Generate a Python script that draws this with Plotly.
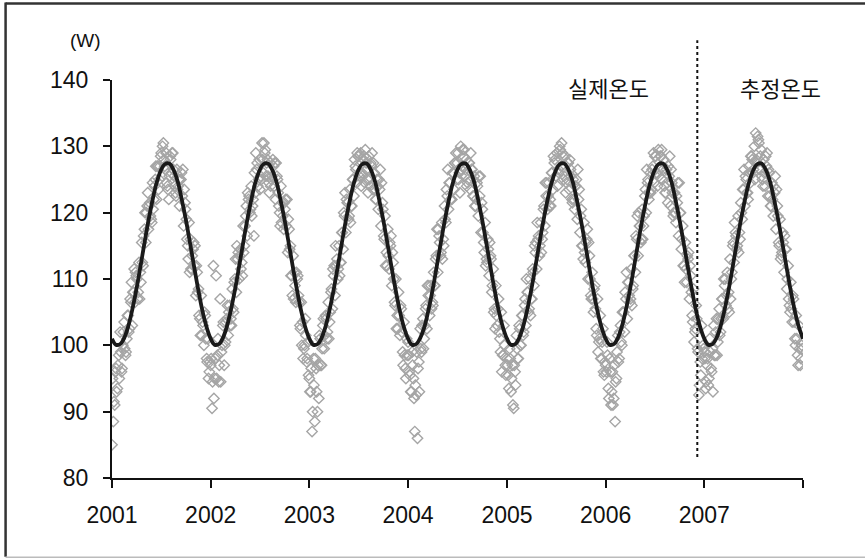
import pandas as pd
import plotly.graph_objects as go

# ---------------- data ----------------
# observed values, first reading series: every 5 days starting 1 January of each year
obs_2001 = [85.0, 88.5, 91.0, 96.5, 93.5, 98.5, 102.0, 96.0, 100.0, 103.5, 98.5, 101.0, 104.5,
            102.5, 106.5, 103.0, 108.0, 106.5, 110.5, 107.0, 112.5, 111.0, 115.5, 112.0, 117.5,
            115.5, 121.0, 117.5, 121.5, 119.0, 124.5, 122.0, 125.0, 122.0, 127.0, 125.0, 128.5,
            125.5, 130.5, 127.0, 129.0, 124.0, 122.0, 128.5, 126.0, 129.0, 125.5, 123.0, 126.5,
            124.0, 121.0, 125.0, 122.5, 118.0, 121.5, 119.0, 115.0, 118.5, 116.0, 111.5, 114.5,
            112.0, 107.5, 111.0, 108.5, 104.0, 107.5, 103.5, 100.0, 104.5, 98.0, 101.0, 96.0]
obs_2002 = [97.0, 90.5, 112.0, 95.0, 110.5, 98.5, 94.5, 107.0, 99.0, 103.0, 97.0, 100.5, 104.0,
            101.5, 106.0, 104.0, 108.5, 105.0, 110.0, 108.0, 113.0, 110.0, 114.5, 112.5, 118.0,
            115.0, 119.5, 116.5, 122.0, 120.0, 124.0, 121.0, 116.5, 123.0, 126.5, 124.0, 128.0,
            125.5, 130.5, 126.0, 129.0, 125.5, 128.0, 124.5, 127.5, 125.0, 128.0, 124.0, 122.0,
            125.5, 123.0, 120.0, 124.0, 121.5, 117.5, 120.5, 118.0, 114.0, 117.5, 115.0, 110.5,
            113.5, 111.0, 106.5, 110.0, 107.5, 103.0, 106.5, 103.5, 99.5, 104.0, 97.5, 100.5]
obs_2003 = [95.0, 93.0, 87.0, 98.0, 88.5, 96.5, 90.0, 92.0, 101.0, 97.0, 103.0, 99.5, 104.5,
            101.0, 106.5, 103.5, 108.0, 105.5, 110.5, 107.5, 112.0, 110.0, 115.0, 112.5, 117.0,
            114.5, 119.5, 117.0, 121.5, 119.0, 123.5, 121.0, 125.0, 122.5, 127.0, 124.5, 128.5,
            125.5, 129.0, 126.0, 128.0, 124.5, 127.5, 125.0, 128.5, 124.0, 127.0, 123.5, 126.0,
            122.0, 125.0, 120.5, 123.5, 118.0, 121.5, 116.5, 119.5, 114.0, 117.5, 111.5, 115.0,
            109.0, 112.5, 106.5, 110.0, 104.5, 108.0, 101.5, 105.5, 99.0, 103.5, 96.5, 101.0]
obs_2004 = [100.5, 96.0, 93.0, 99.0, 95.0, 87.0, 92.5, 86.0, 97.5, 102.5, 99.0, 104.0, 101.0,
            105.5, 102.5, 107.5, 104.5, 109.0, 106.5, 111.0, 109.0, 113.5, 111.0, 116.5, 113.5,
            118.5, 116.0, 121.0, 118.5, 122.5, 120.5, 124.5, 122.0, 126.0, 123.5, 127.5, 125.0,
            129.0, 126.0, 130.0, 127.0, 128.5, 125.5, 128.0, 124.5, 127.5, 123.5, 126.5, 122.5,
            125.5, 121.0, 124.5, 119.5, 122.5, 117.0, 120.5, 115.5, 118.5, 113.0, 116.0, 110.5,
            113.5, 108.0, 111.5, 105.5, 109.0, 103.0, 107.0, 101.0, 105.0, 98.5, 103.0, 97.0]
obs_2005 = [98.0, 95.5, 99.5, 93.0, 97.0, 90.5, 96.0, 101.5, 98.0, 103.0, 100.0, 104.5, 101.5,
            106.0, 103.0, 108.0, 105.0, 110.0, 107.0, 111.5, 109.0, 114.0, 111.5, 116.0, 113.5,
            118.5, 116.0, 120.5, 118.0, 122.5, 120.5, 124.5, 122.0, 126.0, 123.5, 127.5, 125.5,
            129.0, 126.5, 130.0, 127.0, 129.0, 125.0, 128.5, 124.5, 127.5, 123.5, 126.5, 122.0,
            125.0, 120.5, 124.0, 119.0, 122.0, 117.0, 120.5, 115.0, 118.5, 112.5, 116.0, 110.0,
            113.5, 107.5, 111.0, 105.0, 109.0, 102.5, 107.0, 100.5, 104.5, 98.0, 102.5, 95.5]
obs_2006 = [97.0, 100.5, 93.5, 98.0, 91.0, 96.0, 92.0, 88.5, 95.0, 101.5, 98.0, 103.0, 100.0,
            105.0, 102.0, 107.0, 104.0, 109.5, 106.5, 111.5, 108.5, 113.5, 111.0, 116.0, 113.5,
            118.0, 115.5, 120.5, 118.0, 122.5, 120.0, 124.5, 122.0, 126.0, 123.5, 127.0, 124.5,
            128.5, 126.0, 129.5, 126.5, 128.5, 125.0, 128.0, 123.0, 126.5, 121.5, 125.5, 121.0,
            124.5, 119.5, 123.0, 118.5, 121.5, 116.5, 120.0, 114.5, 118.0, 112.0, 115.5, 109.5,
            113.0, 107.0, 110.5, 104.5, 108.5, 102.0, 106.0, 99.5, 92.5, 97.5, 103.0, 100.0]
obs_2007 = [99.0, 93.5, 97.0, 94.0, 101.0, 96.5, 99.5, 103.0, 98.5, 104.0, 100.5, 105.5, 102.0,
            107.0, 104.0, 109.0, 106.0, 111.0, 108.0, 113.0, 110.0, 115.0, 112.5, 117.0, 114.5,
            119.5, 117.0, 121.5, 119.0, 123.5, 121.0, 125.0, 123.0, 127.0, 124.5, 128.5, 126.0,
            130.0, 132.0, 127.5, 131.0, 126.5, 129.5, 125.0, 128.0, 124.0, 127.0, 122.5, 126.0,
            121.0, 124.5, 119.5, 123.0, 117.5, 121.0, 115.5, 119.0, 113.5, 117.0, 111.0, 114.5,
            108.5, 112.0, 106.0, 109.5, 103.5, 107.0, 101.0, 104.5, 98.5, 103.0, 97.0, 100.0]

# second reading series: every 5 days starting 3 January of each year
obs2_2001 = [95.0, 91.5, 96.0, 93.0, 97.0, 95.0, 99.0, 96.5, 102.0, 99.5, 99.0, 104.5, 102.0,
             107.0, 109.5, 108.0, 111.5, 111.0, 110.0, 108.0, 107.0, 109.5, 112.5, 116.5, 120.0,
             120.0, 123.0, 121.0, 119.5, 118.5, 120.5, 124.0, 127.0, 127.0, 123.5, 127.0, 129.0,
             130.0, 128.0, 126.5, 124.5, 123.5, 125.5, 128.0, 129.0, 126.5, 124.0, 122.5, 123.5,
             125.0, 125.0, 126.0, 126.5, 123.5, 120.5, 116.0, 113.0, 111.0, 111.5, 113.5, 115.5,
             115.0, 112.0, 108.0, 104.5, 101.5, 101.5, 103.0, 105.0, 101.0, 97.5, 95.0, 97.5]
obs2_2002 = [98.0, 94.5, 92.0, 98.0, 95.0, 101.0, 97.0, 94.5, 100.0, 103.5, 100.0, 103.5, 106.0,
             105.0, 103.0, 103.0, 105.5, 109.5, 113.0, 115.0, 114.0, 113.5, 111.5, 110.5, 114.0,
             118.0, 121.0, 123.0, 122.5, 120.5, 119.5, 122.0, 126.0, 129.0, 127.5, 125.0, 123.5,
             125.0, 128.0, 130.5, 129.5, 127.5, 125.5, 123.0, 124.0, 125.5, 127.0, 127.5, 127.5,
             125.0, 121.0, 118.0, 118.5, 119.5, 121.5, 122.0, 122.0, 119.0, 114.5, 110.5, 107.5,
             107.0, 109.0, 111.0, 110.5, 106.5, 102.5, 100.0, 98.0, 100.0, 101.5, 98.0, 95.5]
obs2_2003 = [93.0, 96.5, 90.0, 94.0, 98.0, 93.0, 97.0, 101.5, 97.0, 99.5, 104.0, 101.5, 104.0,
             102.0, 101.0, 105.0, 108.5, 111.5, 112.0, 115.0, 113.0, 111.5, 110.5, 112.5, 117.0,
             120.0, 123.0, 122.0, 121.5, 119.5, 118.5, 121.0, 125.0, 128.0, 126.5, 129.0, 128.5,
             126.0, 124.0, 125.5, 128.5, 129.5, 126.5, 123.0, 125.0, 127.5, 129.0, 127.5, 123.5,
             122.0, 124.0, 125.0, 126.5, 124.5, 120.5, 116.0, 112.0, 112.0, 113.5, 115.5, 116.5,
             114.0, 110.0, 106.0, 102.5, 102.5, 104.5, 106.0, 102.0, 97.0, 98.5, 95.0, 98.5]
obs2_2004 = [98.5, 95.5, 93.0, 97.0, 92.0, 94.0, 99.0, 96.5, 93.0, 99.5, 103.0, 99.5, 103.0,
             106.0, 109.0, 109.0, 107.5, 105.5, 106.0, 109.0, 113.0, 117.5, 117.5, 115.5, 114.0,
             113.0, 115.0, 119.0, 123.5, 126.5, 124.5, 122.0, 122.0, 126.0, 127.5, 129.0, 127.5,
             125.0, 123.0, 126.5, 129.5, 129.5, 126.5, 124.0, 125.0, 127.5, 129.0, 126.5, 122.5,
             121.0, 122.0, 124.0, 125.5, 125.5, 121.5, 117.0, 114.0, 112.0, 112.5, 114.5, 115.5,
             113.0, 109.0, 105.0, 102.5, 104.5, 105.5, 102.0, 99.0, 96.0, 98.5, 100.0, 95.5]
obs2_2005 = [97.0, 93.5, 98.0, 95.0, 91.0, 97.0, 94.0, 99.5, 98.0, 102.5, 100.0, 104.5, 102.0,
             107.0, 110.0, 108.0, 105.5, 104.5, 107.0, 111.0, 115.0, 115.5, 118.5, 116.5, 115.0,
             114.0, 117.0, 121.0, 124.5, 124.5, 122.5, 121.0, 121.0, 126.0, 128.5, 128.0, 125.5,
             124.0, 126.0, 129.5, 130.5, 128.5, 125.5, 123.0, 125.0, 127.5, 128.0, 125.5, 121.5,
             122.0, 124.0, 125.0, 126.5, 123.5, 119.5, 115.0, 113.0, 114.0, 115.5, 117.5, 115.5,
             110.0, 107.0, 107.0, 108.5, 105.5, 101.5, 99.0, 101.0, 98.0, 100.5, 96.0, 97.5]
obs2_2006 = [96.0, 98.5, 92.0, 96.0, 93.0, 91.0, 97.0, 94.5, 99.0, 97.5, 102.0, 100.5, 105.0,
             105.0, 108.0, 111.0, 109.5, 107.5, 107.0, 106.0, 109.0, 113.5, 116.5, 119.5, 120.0,
             118.0, 116.0, 116.0, 119.5, 123.5, 126.5, 125.0, 123.0, 123.0, 126.5, 129.0, 128.5,
             126.0, 124.0, 125.5, 128.5, 129.5, 126.5, 124.0, 123.0, 124.5, 127.0, 128.5, 126.5,
             123.0, 120.0, 120.0, 122.5, 124.5, 124.5, 120.0, 116.0, 112.0, 109.5, 111.5, 113.5,
             114.0, 112.0, 108.0, 103.5, 100.5, 102.5, 104.0, 99.0, 94.0, 95.5, 98.0, 99.5]
obs2_2007 = [98.0, 94.5, 98.0, 95.0, 99.0, 96.0, 93.0, 98.5, 102.0, 98.5, 104.0, 101.5, 104.0,
             107.0, 110.0, 110.0, 107.5, 105.5, 105.0, 107.0, 111.0, 115.5, 118.5, 116.5, 115.0,
             114.0, 116.0, 120.0, 123.5, 126.5, 125.5, 123.0, 122.0, 126.0, 128.5, 128.0, 126.5,
             125.0, 128.0, 131.5, 130.5, 128.5, 125.5, 124.0, 126.0, 128.5, 129.0, 126.5, 122.5,
             121.0, 122.0, 124.0, 125.5, 123.5, 119.5, 115.0, 113.0, 114.0, 115.5, 116.5, 114.5,
             110.0, 107.0, 105.0, 105.5, 107.5, 103.5, 100.0, 101.0, 97.0, 99.5, 98.0, 99.5]
obs_years = [2001, 2002, 2003, 2004, 2005, 2006, 2007]

# fitted curve, read on the 1st and 15th of every month, 2001-01 .. 2008-01
fit_vals = [
    101.0, 100.1, 100.2, 101.1, 102.7, 105.0, 108.4, 111.6, 115.4, 118.6, 122.1, 124.5,
    126.4, 127.3, 127.4, 126.6, 124.7, 122.2, 119.0, 115.8, 111.8, 108.6, 105.3, 103.0,
    101.0, 100.1, 100.2, 101.1, 102.7, 105.0, 108.4, 111.6, 115.4, 118.6, 122.1, 124.5,
    126.4, 127.3, 127.4, 126.6, 124.7, 122.2, 119.0, 115.8, 111.8, 108.6, 105.3, 103.0,
    101.0, 100.1, 100.2, 101.1, 102.7, 105.0, 108.4, 111.6, 115.4, 118.6, 122.1, 124.5,
    126.4, 127.3, 127.4, 126.6, 124.7, 122.2, 119.0, 115.8, 111.8, 108.6, 105.3, 103.0,
    101.0, 100.1, 100.2, 101.1, 102.7, 105.0, 108.4, 111.6, 115.4, 118.6, 122.1, 124.5,
    126.4, 127.3, 127.4, 126.6, 124.7, 122.2, 119.0, 115.8, 111.8, 108.6, 105.3, 103.0,
    101.0, 100.1, 100.2, 101.1, 102.7, 105.0, 108.4, 111.6, 115.4, 118.6, 122.1, 124.5,
    126.4, 127.3, 127.4, 126.6, 124.7, 122.2, 119.0, 115.8, 111.8, 108.6, 105.3, 103.0,
    101.0, 100.1, 100.2, 101.1, 102.7, 105.0, 108.4, 111.6, 115.4, 118.6, 122.1, 124.5,
    126.4, 127.3, 127.4, 126.6, 124.7, 122.2, 119.0, 115.8, 111.8, 108.6, 105.3, 103.0,
    101.0, 100.1, 100.2, 101.1, 102.7, 105.0, 108.4, 111.6, 115.4, 118.6, 122.1, 124.5,
    126.4, 127.3, 127.4, 126.6, 124.7, 122.2, 119.0, 115.8, 111.8, 108.6, 105.3, 103.0,
    101.0]

year_ticks = ["2001-01-01", "2002-01-01", "2003-01-01", "2004-01-01", "2005-01-01",
              "2006-01-01", "2007-01-01", "2008-01-01"]
year_labels = ["2001", "2002", "2003", "2004", "2005", "2006", "2007", ""]
split_date = "2006-12-06"
label_actual = "실제온도"
label_est = "추정온도"
unit_label = "(W)"

# ---------------- figure ----------------
series_a = [obs_2001, obs_2002, obs_2003, obs_2004, obs_2005, obs_2006, obs_2007]
series_b = [obs2_2001, obs2_2002, obs2_2003, obs2_2004, obs2_2005, obs2_2006, obs2_2007]
obs_x, obs_y = [], []
for yr, va, vb in zip(obs_years, series_a, series_b):
    obs_x += list(pd.date_range(f"{yr}-01-01", periods=len(va), freq="5D"))
    obs_y += va
    obs_x += list(pd.date_range(f"{yr}-01-03", periods=len(vb), freq="5D"))
    obs_y += vb
fit_x = pd.date_range("2001-01-01", periods=len(fit_vals), freq="SMS")

fig = go.Figure()
fig.add_trace(go.Scatter(
    x=obs_x, y=obs_y, mode="markers",
    marker=dict(symbol="diamond-open", size=8, color="#a5a5a5", line=dict(width=1.4, color="#a5a5a5")),
    showlegend=False, hoverinfo="skip"))
fig.add_trace(go.Scatter(
    x=fit_x, y=fit_vals, mode="lines", line=dict(color="#1a1a1a", width=3.8, shape="spline"),
    showlegend=False, hoverinfo="skip"))

font_num = dict(family="Liberation Sans, Arial, sans-serif", size=23, color="#111")

fig.update_layout(
    width=865, height=558,
    margin=dict(l=112, r=62, t=80, b=80),
    paper_bgcolor="white", plot_bgcolor="white",
    xaxis=dict(range=["2001-01-01", "2008-01-01"], tickvals=year_ticks, ticktext=year_labels,
               showline=True, linecolor="#111", linewidth=2, ticks="outside", ticklen=8,
               tickwidth=2, tickcolor="#111", showgrid=False, zeroline=False,
               tickfont=font_num, ticklabelstandoff=7),
    yaxis=dict(range=[80, 140], dtick=10, showline=True, linecolor="#111", linewidth=2,
               ticks="outside", ticklen=7, tickwidth=2, tickcolor="#111", showgrid=False,
               zeroline=False, tickfont=font_num, ticklabelstandoff=10),
)

# dotted separator between measured and estimated periods
fig.add_shape(type="line", xref="x", yref="paper", x0=split_date, x1=split_date,
              y0=0.053, y1=1.10, line=dict(color="#111", width=2, dash="dot"))

# outer frame
fig.add_shape(type="line", xref="paper", yref="paper", x0=-0.154, x1=1.1, y0=1.192, y1=1.192,
              line=dict(color="#333", width=2.5))
fig.add_shape(type="line", xref="paper", yref="paper", x0=-0.154, x1=-0.154, y0=1.195, y1=-0.198,
              line=dict(color="#333", width=2.5))
fig.add_shape(type="line", xref="paper", yref="paper", x0=-0.154, x1=1.1, y0=-0.199, y1=-0.199,
              line=dict(color="#bbbbbb", width=1.5))

kfont = dict(family="Noto Sans CJK KR, sans-serif", size=22, color="#111")
fig.add_annotation(x=0.719, y=1.0, xref="paper", yref="paper", text=label_actual, showarrow=False,
                   font=kfont, xanchor="center", yanchor="middle", yshift=-7)
fig.add_annotation(x=0.968, y=1.0, xref="paper", yref="paper", text=label_est, showarrow=False,
                   font=kfont, xanchor="center", yanchor="middle", yshift=-7)
fig.add_annotation(x=-0.039, y=1.0, xref="paper", yref="paper", text=unit_label, showarrow=False,
                   font=dict(family="Liberation Sans, Arial, sans-serif", size=19, color="#111"),
                   xanchor="center", yanchor="middle", yshift=40)

fig.write_html("out.html")
